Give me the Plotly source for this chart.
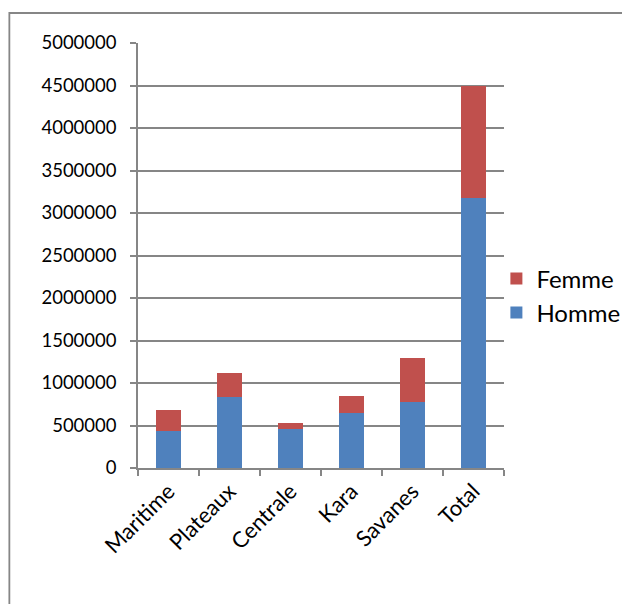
import plotly.graph_objects as go

categories = ["Maritime", "Plateaux", "Centrale", "Kara", "Savanes", "Total"]
homme = [440000, 838000, 457000, 642000, 772000, 3180000]
femme = [245000, 280000, 71000, 204000, 528000, 1318000]
y_ticks = [0, 500000, 1000000, 1500000, 2000000, 2500000, 3000000, 3500000, 4000000, 4500000, 5000000]

BLUE = "#4F81BD"
RED = "#C0504D"
GRAY = "#868686"
FONT = "Lato, 'Open Sans', sans-serif"

W, H = 630, 604
OFF = 8  # page body offset
L, T = 138 - OFF, 43 - OFF
pw, ph = 365.6, 425.3
R = W - L - pw
B = H - T - ph

def px_x(p):
    return (p - OFF - L) / pw

def px_y(p):
    return (T + ph - (p - OFF)) / ph

fig = go.Figure()
fig.add_trace(go.Bar(x=categories, y=homme, name="Homme", marker=dict(color=BLUE, line=dict(width=0)),
                     legendgroup="h", legendrank=2))
fig.add_trace(go.Bar(x=categories, y=femme, name="Femme", marker=dict(color=RED, line=dict(width=0)),
                     legendgroup="f", legendrank=1))

fig.update_layout(
    width=W, height=H,
    margin=dict(l=L, r=R, t=T, b=B, autoexpand=False),
    barmode="stack",
    bargap=0.6,
    paper_bgcolor="white",
    plot_bgcolor="white",
    font=dict(family=FONT, color="black", size=19),
    legend=dict(
        traceorder="grouped",
        tracegroupgap=0,
        x=px_x(496), xanchor="left",
        y=px_y(296), yanchor="middle",
        font=dict(size=24, family=FONT, color="black"),
        bgcolor="rgba(0,0,0,0)",
        itemclick=False,
    ),
    xaxis=dict(
        type="category",
        showline=True, linecolor=GRAY, linewidth=1.5,
        ticks="outside", tickson="boundaries", ticklen=6, tickcolor=GRAY, tickwidth=1.5,
        tickangle=-45,
        tickfont=dict(size=22, family=FONT),
        showgrid=False,
        automargin=False,
    ),
    yaxis=dict(
        range=[0, 5000000],
        tickvals=y_ticks,
        ticktext=[str(v) for v in y_ticks],
        showline=True, linecolor=GRAY, linewidth=1.5,
        ticks="outside", ticklen=6, tickcolor=GRAY, tickwidth=1.5,
        showgrid=True, gridcolor=GRAY, gridwidth=1.5,
        zeroline=False,
        tickfont=dict(size=18.5, family=FONT),
        ticklabelstandoff=10,
        automargin=False,
    ),
    shapes=[
        dict(type="rect", xref="paper", yref="paper",
             x0=px_x(9.5), x1=px_x(660), y0=px_y(660), y1=px_y(13),
             line=dict(color=GRAY, width=1.8), fillcolor="rgba(0,0,0,0)", layer="below"),
    ],
)

fig.write_html("out.html")
